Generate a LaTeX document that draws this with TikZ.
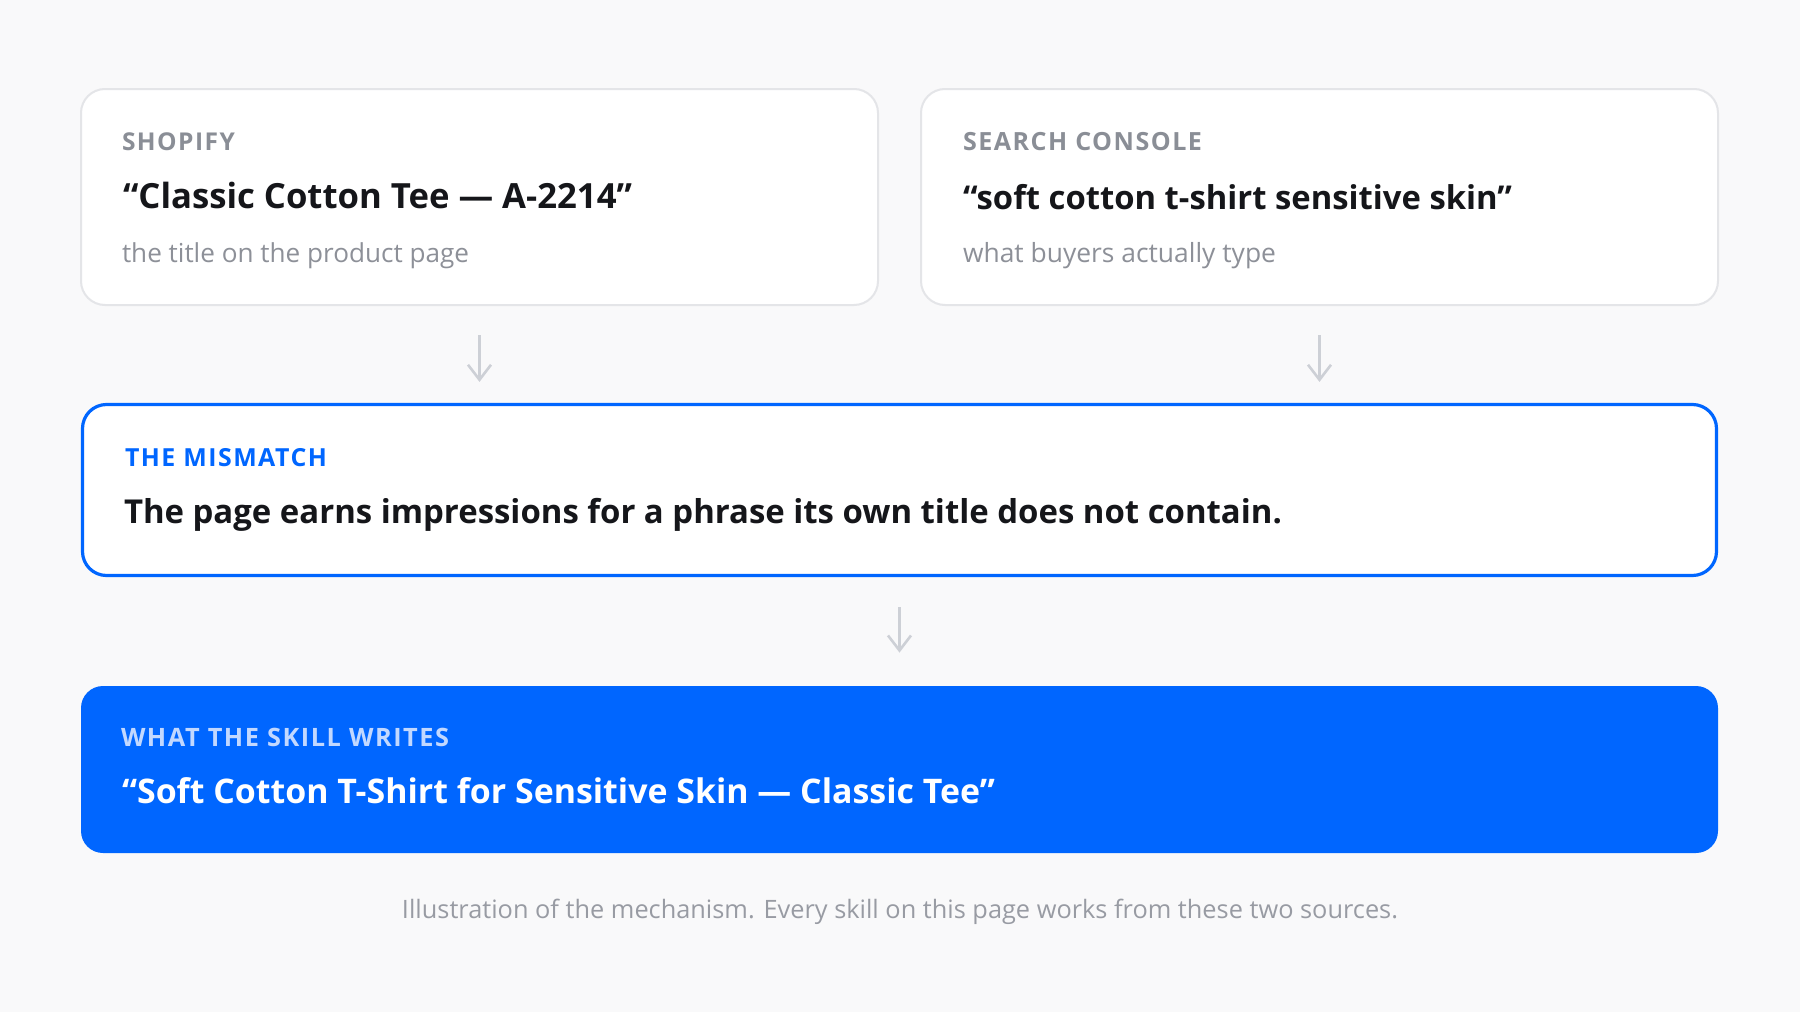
\documentclass[tikz,border=0pt]{standalone}
\usepackage{fontspec}
\setmainfont{Open Sans}
\usetikzlibrary{arrows.meta}
\definecolor{bgc}{HTML}{F9F9FA}
\definecolor{cardline}{HTML}{E4E5E8}
\definecolor{labelgray}{HTML}{8A8E96}
\definecolor{titleink}{HTML}{15161A}
\definecolor{subgray}{HTML}{8D9098}
\definecolor{brand}{HTML}{0066FF}
\definecolor{brandlight}{HTML}{C2D8FF}
\definecolor{arrowgray}{HTML}{CDD0D6}
\definecolor{capgray}{HTML}{989BA3}
\newcommand\fitto[2]{\resizebox{#1}{!}{#2}}
\newcommand\lbl[1]{{\bfseries\addfontfeature{LetterSpace=6}#1}}
\begin{document}
\begin{tikzpicture}[x=0.5pt,y=-0.5pt,
  card/.style={draw=cardline, fill=white, line width=1pt, rounded corners=12pt, inner sep=0pt},
  mcard/.style={draw=brand, fill=white, line width=1.6pt, rounded corners=12pt, inner sep=0pt},
  bcard/.style={fill=brand, rounded corners=11pt, inner sep=0pt},
  txt/.style={anchor=base west, inner sep=0pt, outer sep=0pt},
  flow/.style={draw=arrowgray, line width=1.3pt, -{Straight Barb[length=7.5pt,width=11.5pt,line width=1.3pt]}}
]
\fill[bgc] (0,0) rectangle (1800,1012);
\useasboundingbox (0,0) rectangle (1800,1012);

% cards
\node[card, minimum width=398.5pt, minimum height=108pt] (shop) at (479.5,197) {};
\node[card, minimum width=398.5pt, minimum height=108pt] (gsc) at (1319.5,197) {};
\node[mcard, minimum width=817pt, minimum height=85.5pt] (mis) at (899.5,490) {};
\node[bcard, minimum width=818.5pt, minimum height=83.5pt] (out) at (899.5,769.5) {};

% shopify text
\node[txt, text=labelgray] (shoplbl) at (122,150) {\fitto{56.5pt}{\lbl{SHOPIFY}}};
\node[txt, text=titleink] (shoptitle) at (123,208.5) {\fitto{254.5pt}{\bfseries “Classic Cotton Tee — A-2214”}};
\node[txt, text=subgray] (shopsub) at (122,262) {\fitto{173.5pt}{the title on the product page}};

% search console text
\node[txt, text=labelgray] (gsclbl) at (963,150) {\fitto{119.5pt}{\lbl{SEARCH CONSOLE}}};
\node[txt, text=titleink] (gsctitle) at (963,209) {\fitto{274.5pt}{\bfseries “soft cotton t-shirt sensitive skin”}};
\node[txt, text=subgray] (gscsub) at (963,262) {\fitto{156.5pt}{what buyers actually type}};

% mismatch text
\node[txt, text=brand] (mislbl) at (125,466) {\fitto{101pt}{\lbl{THE MISMATCH}}};
\node[txt, text=titleink] (mistext) at (124,523) {\fitto{579pt}{\bfseries The page earns impressions for a phrase its own title does not contain.}};

% output text
\node[txt, text=brandlight] (outlbl) at (121,746) {\fitto{164pt}{\lbl{WHAT THE SKILL WRITES}}};
\node[txt, text=white] (outtitle) at (122,803) {\fitto{436.5pt}{\bfseries “Soft Cotton T-Shirt for Sensitive Skin — Classic Tee”}};

% caption
\node[anchor=base, inner sep=0pt, text=capgray] (cap) at (900,918) {\fitto{498pt}{Illustration of the mechanism. Every skill on this page works from these two sources.}};

% connectors
\draw[flow, shorten <=14.5pt, shorten >=10.5pt] (shop.south) -- (shop.south |- mis.north);
\draw[flow, shorten <=14.5pt, shorten >=10.5pt] (gsc.south) -- (gsc.south |- mis.north);
\draw[flow, shorten <=15pt, shorten >=16.5pt] (mis.south) -- (out.north);
\end{tikzpicture}
\end{document}
